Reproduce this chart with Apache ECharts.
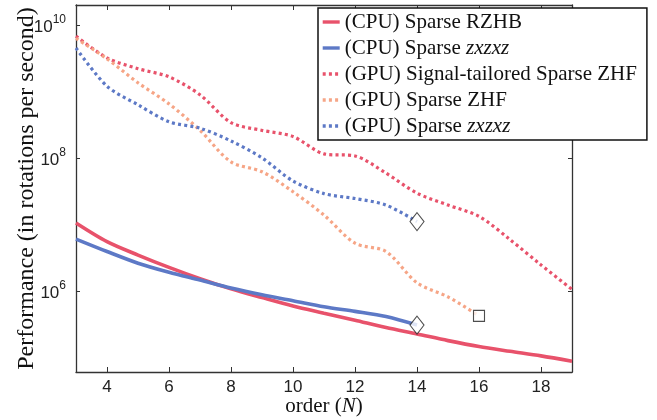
<!DOCTYPE html>
<html>
<head>
<meta charset="utf-8">
<script src="https://cdn.jsdelivr.net/npm/echarts@6/dist/echarts.min.js"></script>
<style>html,body{margin:0;padding:0;background:#fff;}#c{width:657px;height:420px;}</style>
</head>
<body>
<div id="c"></div>
<script>
// ---- data ----
const ordersFull = [3,4,5,6,7,8,9,10,11,12,13,14,15,16,17,18,19];
const ordersZx = [3,4,5,6,7,8,9,10,11,12,13,14];
const ordersZhf = [3,4,5,6,7,8,9,10,11,12,13,14,15,16];

const cpuRzhb = [1.05e7,5.5e6,3.45e6,2.25e6,1.52e6,1.07e6,7.9e5,5.9e5,4.6e5,3.6e5,2.8e5,2.24e5,1.78e5,1.45e5,1.23e5,1.05e5,8.7e4];
const cpuZx = [6.0e6,3.9e6,2.6e6,1.9e6,1.45e6,1.1e6,8.7e5,7.1e5,5.75e5,4.9e5,4.1e5,3.05e5];
const gpuSignalZhf = [6.8e9,3.2e9,2.2e9,1.66e9,8.9e8,3.4e8,2.6e8,2.1e8,1.15e8,1.07e8,5.9e7,2.95e7,1.95e7,1.32e7,5.9e6,2.45e6,1.05e6];
const gpuZhf = [6.3e9,3.1e9,1.35e9,6.5e8,2.6e8,8.7e7,6.2e7,3.1e7,1.38e7,5.2e6,3.9e6,1.32e6,8.1e5,4.2e5];
const gpuZx = [4.5e9,1.2e9,6.3e8,3.5e8,2.8e8,1.8e8,1.0e8,4.5e7,2.9e7,2.45e7,1.95e7,1.1e7];

const seriesNames = ['(CPU) Sparse RZHB','(CPU) Sparse zxzxz','(GPU) Signal-tailored Sparse ZHF','(GPU) Sparse ZHF','(GPU) Sparse zxzxz'];
const xTicks = [4,6,8,10,12,14,16,18];
const yTicks = [1e6,1e8,1e10];

// ---- styles ----
const RED = '#E8526B', BLUE = '#5D79C6', ORANGE = '#F6A586';
const SERIF = '"Liberation Serif","Times New Roman",serif';
const SANS = '"Liberation Sans",Arial,sans-serif';

function zip(xs, ys){ return xs.map((x,i)=>[x, ys[i]]); }
function last(xs, ys){ return [xs[xs.length-1], ys[ys.length-1]]; }

function lineSeries(name, xs, ys, color, dotted){
  return {
    name, type:'line', data: zip(xs, ys), symbol:'none', smooth:0.3,
    lineStyle: dotted ? {color, width:3.2, type:[3,3.2], cap:'butt'} : {color, width:3.6},
    itemStyle:{color}, z: dotted ? 3 : 2, animation:false
  };
}

const chart = echarts.init(document.getElementById('c'), null, {renderer:'canvas'});
const tickStyle = {show:true, inside:true, length:4, lineStyle:{color:'#333', width:1}};
const axisLineStyle = {show:true, lineStyle:{color:'#333', width:1.3}};

chart.setOption({
  animation:false,
  backgroundColor:'#fff',
  grid:{left:76, right:85, top:5, bottom:48, show:false, containLabel:false, outerBoundsMode:'none'},
  legend:{
    show:true, orient:'vertical', left:318, top:8,
    data: seriesNames,
    itemWidth:17, itemHeight:4, itemGap:4,
    itemStyle:{opacity:0},
    lineStyle:{width:3.4},
    padding:[3,10,3,3],
    borderColor:'#111', borderWidth:1.5, backgroundColor:'#fff',
    textStyle:{fontFamily:SERIF, fontSize:21, color:'#111', lineHeight:22,
      rich:{i:{fontFamily:SERIF, fontStyle:'italic', fontSize:21, color:'#111'}}},
    formatter: n => n.replace('zxzxz','{i|zxzxz}'),
    selectedMode:false, z:10
  },
  xAxis:[{
    type:'value', min:3, max:19, position:'bottom',
    axisLine:axisLineStyle, splitLine:{show:false},
    axisTick:Object.assign({customValues:xTicks}, tickStyle, {length:5}),
    axisLabel:{customValues:xTicks, fontFamily:SANS, fontSize:17, color:'#222', margin:7},
    name:'order ({i|N})', nameLocation:'middle', nameGap:24, nameMoveOverlap:false,
    nameTextStyle:{fontFamily:SERIF, fontSize:21, color:'#111', rich:{i:{fontFamily:SERIF, fontStyle:'italic', fontSize:21, color:'#111'}}}
  },{
    type:'value', min:3, max:19, position:'top',
    axisLine:axisLineStyle, splitLine:{show:false},
    axisTick:Object.assign({customValues:xTicks}, tickStyle, {length:5}),
    axisLabel:{show:false}
  }],
  yAxis:[{
    type:'log', logBase:10, min:6.0e4, max:2.0e10, position:'left',
    axisLine:axisLineStyle, splitLine:{show:false}, minorTick:{show:false},
    axisTick:Object.assign({customValues:yTicks}, tickStyle),
    axisLabel:{customValues:yTicks, margin:10, color:'#222',
      formatter: v => { const e = Math.round(Math.log10(v)); return '{b|10}{e|' + e + '}'; },
      rich:{b:{fontFamily:SANS, fontSize:17, color:'#222', verticalAlign:'bottom', padding:[5,0,0,0]},
            e:{fontFamily:SANS, fontSize:12, color:'#222', verticalAlign:'top'}}
    },
    name:'Performance (in rotations per second)', nameLocation:'middle', nameGap:37, nameRotate:90, nameMoveOverlap:false,
    nameTextStyle:{fontFamily:SERIF, fontSize:24, color:'#111'}
  },{
    type:'log', logBase:10, min:6.0e4, max:2.0e10, position:'right',
    axisLine:axisLineStyle, splitLine:{show:false}, minorTick:{show:false},
    axisTick:Object.assign({customValues:yTicks}, tickStyle),
    axisLabel:{show:false}
  }],
  series:[
    lineSeries(seriesNames[0], ordersFull, cpuRzhb, RED, false),
    lineSeries(seriesNames[1], ordersZx, cpuZx, BLUE, false),
    lineSeries(seriesNames[2], ordersFull, gpuSignalZhf, RED, true),
    lineSeries(seriesNames[3], ordersZhf, gpuZhf, ORANGE, true),
    lineSeries(seriesNames[4], ordersZx, gpuZx, BLUE, true),
    {type:'scatter', name:'endDiamond', data:[last(ordersZx, gpuZx), last(ordersZx, cpuZx)],
     symbol:'diamond', symbolSize:[14,18], itemStyle:{color:'#fff', borderColor:'#222', borderWidth:1.1}, z:5, silent:true},
    {type:'scatter', name:'endSquare', data:[last(ordersZhf, gpuZhf)],
     symbol:'rect', symbolSize:[11,11], itemStyle:{color:'#fff', borderColor:'#222', borderWidth:1.1}, z:5, silent:true}
  ]
});
</script>
</body>
</html>
